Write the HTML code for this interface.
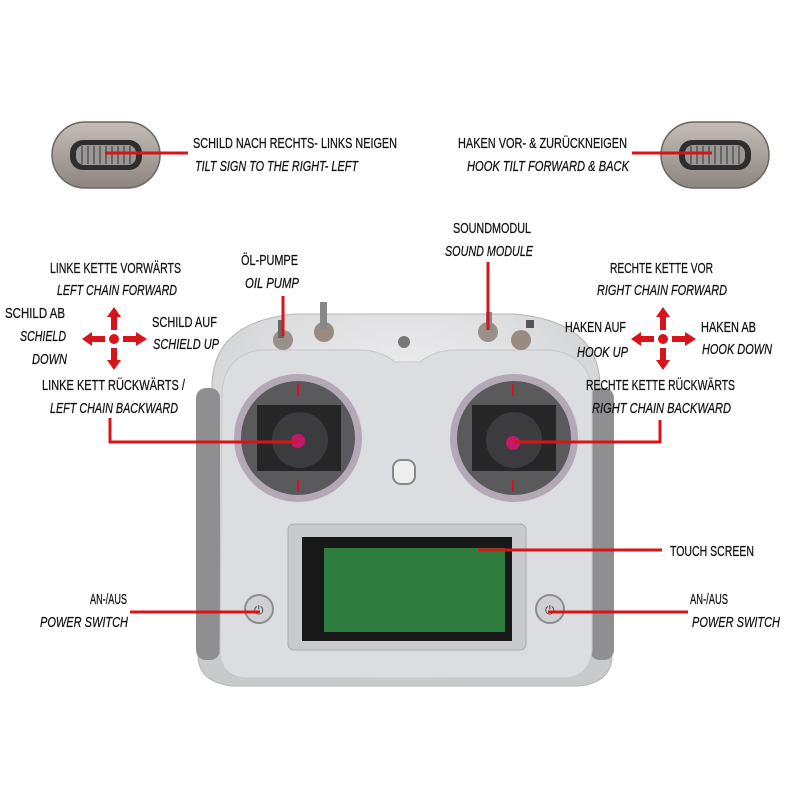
<!DOCTYPE html>
<html><head><meta charset="utf-8"><style>
html,body{margin:0;padding:0;background:#fff}
svg{display:block}
text{font-family:"Liberation Sans Narrow","Liberation Sans",sans-serif;font-size:15px;fill:#111;stroke:#111;stroke-width:0.25}
.i{font-style:italic}
</style></head><body>
<svg width="800" height="800" viewBox="0 0 800 800" xmlns="http://www.w3.org/2000/svg">
<defs>
<radialGradient id="body" cx="50%" cy="30%" r="70%"><stop offset="0" stop-color="#f4f4f5"/><stop offset="1" stop-color="#c9cacc"/></radialGradient>
<linearGradient id="wheel" x1="0" y1="0" x2="0" y2="1"><stop offset="0" stop-color="#c4bdb8"/><stop offset="1" stop-color="#8c8580"/></linearGradient>
<g id="arrowcross">
<circle cx="0" cy="0" r="5" fill="#d8141b"/>
<path d="M-3,-9 L-3,-22 L-7,-22 L0,-32 L7,-22 L3,-22 L3,-9Z" fill="#d8141b"/>
<path d="M-3,9 L-3,21 L-7,21 L0,31 L7,21 L3,21 L3,9Z" fill="#d8141b"/>
<path d="M-9,-3 L-22,-3 L-22,-7 L-32,0 L-22,7 L-22,3 L-9,3Z" fill="#d8141b"/>
<path d="M9,-3 L22,-3 L22,-7 L33,0 L22,7 L22,3 L9,3Z" fill="#d8141b"/>
</g>
<g id="thumb">
<rect x="0" y="0" width="108" height="66" rx="33" fill="url(#wheel)" stroke="#6d6762" stroke-width="1.5"/>
<rect x="18" y="18" width="72" height="30" rx="13" fill="#2e2e2e"/>
<rect x="24" y="23" width="60" height="20" rx="8" fill="#9a9795"/>
<path d="M30,24 V42 M36,24 V42 M42,24 V42 M48,24 V42 M54,24 V42 M60,24 V42 M66,24 V42 M72,24 V42 M78,24 V42" stroke="#555" stroke-width="1.5"/>
</g>
</defs>

<use href="#thumb" x="52" y="122"/>
<use href="#thumb" x="661" y="122"/>
<line x1="105" y1="153" x2="188" y2="153" stroke="#d8141b" stroke-width="3"/>
<line x1="632" y1="153" x2="712" y2="153" stroke="#d8141b" stroke-width="3"/>

<!-- controller body -->
<path d="M212,390 Q210,322 295,314 L515,314 Q602,322 600,390 L612,400 L612,655 Q612,682 580,686 L232,686 Q198,682 198,655 L198,400Z" fill="url(#body)" stroke="#b5b5b8"/>
<rect x="196" y="388" width="24" height="272" rx="10" fill="#8f8f91"/>
<rect x="590" y="388" width="24" height="272" rx="10" fill="#8f8f91"/>
<path d="M222,392 Q225,355 260,350 L360,350 Q380,350 395,362 L420,362 Q435,350 455,350 L550,350 Q590,355 592,392 L592,650 Q590,676 565,678 L245,678 Q220,676 220,650Z" fill="#dcdde0" stroke="#c8c8cb"/>

<g>
<circle cx="298" cy="438" r="64" fill="#b3a8b5"/>
<circle cx="298" cy="438" r="57" fill="#5a5a5c"/>
<rect x="257" y="405" width="84" height="66" fill="#262627"/>
<circle cx="300" cy="440" r="28" fill="#3c3c3e"/>
<circle cx="298" cy="441" r="7" fill="#c21a6a"/>
<line x1="298" y1="384" x2="298" y2="396" stroke="#d8141b" stroke-width="2"/>
<line x1="298" y1="480" x2="298" y2="492" stroke="#d8141b" stroke-width="2"/>
</g>
<g>
<circle cx="514" cy="438" r="64" fill="#b3a8b5"/>
<circle cx="514" cy="438" r="57" fill="#5a5a5c"/>
<rect x="472" y="405" width="84" height="66" fill="#262627"/>
<circle cx="514" cy="440" r="28" fill="#3c3c3e"/>
<circle cx="513" cy="443" r="7" fill="#c21a6a"/>
<line x1="513" y1="384" x2="513" y2="396" stroke="#d8141b" stroke-width="2"/>
<line x1="513" y1="480" x2="513" y2="492" stroke="#d8141b" stroke-width="2"/>
</g>
<rect x="393" y="460" width="22" height="24" rx="8" fill="#eee" stroke="#888" stroke-width="2"/>

<circle cx="404" cy="342" r="6" fill="#777"/>
<circle cx="283" cy="340" r="10" fill="#9a908a"/><rect x="278" y="320" width="6" height="18" fill="#666"/>
<circle cx="324" cy="332" r="10" fill="#9a8b80"/><rect x="320" y="302" width="7" height="28" fill="#888"/>
<circle cx="488" cy="332" r="10" fill="#9a908a"/><rect x="486" y="312" width="6" height="18" fill="#888"/>
<circle cx="521" cy="340" r="10" fill="#9a8b80"/><rect x="526" y="320" width="8" height="8" fill="#555"/>

<rect x="288" y="524" width="238" height="126" rx="6" fill="#c9cacd" stroke="#aaa"/>
<rect x="302" y="537" width="210" height="104" fill="#181818"/>
<rect x="324" y="548" width="181" height="84" fill="#2e7d3e"/>

<circle cx="259" cy="609" r="14" fill="#d0d0d2" stroke="#8d8d90" stroke-width="2"/>
<circle cx="550" cy="609" r="14" fill="#d0d0d2" stroke="#8d8d90" stroke-width="2"/>
<text x="254" y="614" style="font-size:12px;fill:#444;stroke:none">⏻</text>
<text x="545" y="614" style="font-size:12px;fill:#444;stroke:none">⏻</text>

<g stroke="#d8141b" stroke-width="3" fill="none">
<line x1="283" y1="296" x2="283" y2="336"/>
<line x1="488" y1="262" x2="488" y2="330"/>
<polyline points="110,418 110,442 298,442"/>
<polyline points="660,420 660,442 514,442"/>
<line x1="478" y1="550" x2="662" y2="550"/>
<line x1="130" y1="612" x2="260" y2="612"/>
<line x1="548" y1="612" x2="688" y2="612"/>
</g>
<use href="#arrowcross" x="114" y="339"/>
<use href="#arrowcross" x="663" y="339"/>

<text x="193" y="148" textLength="204" lengthAdjust="spacingAndGlyphs">SCHILD NACH RECHTS- LINKS NEIGEN</text>
<text class="i" x="195" y="171" textLength="163" lengthAdjust="spacingAndGlyphs">TILT SIGN TO THE RIGHT- LEFT</text>
<text x="458" y="148" textLength="169" lengthAdjust="spacingAndGlyphs">HAKEN VOR- &amp; ZURÜCKNEIGEN</text>
<text class="i" x="467" y="171" textLength="162" lengthAdjust="spacingAndGlyphs">HOOK TILT FORWARD &amp; BACK</text>
<text x="453" y="233" textLength="78" lengthAdjust="spacingAndGlyphs">SOUNDMODUL</text>
<text class="i" x="445" y="256" textLength="88" lengthAdjust="spacingAndGlyphs">SOUND MODULE</text>
<text x="241" y="265" textLength="57" lengthAdjust="spacingAndGlyphs">ÖL-PUMPE</text>
<text class="i" x="245" y="288" textLength="54" lengthAdjust="spacingAndGlyphs">OIL PUMP</text>
<text x="50" y="273" textLength="131" lengthAdjust="spacingAndGlyphs">LINKE KETTE VORWÄRTS</text>
<text class="i" x="57" y="295" textLength="120" lengthAdjust="spacingAndGlyphs">LEFT CHAIN FORWARD</text>
<text x="5" y="318" textLength="60" lengthAdjust="spacingAndGlyphs">SCHILD AB</text>
<text class="i" x="20" y="341" textLength="46" lengthAdjust="spacingAndGlyphs">SCHIELD</text>
<text class="i" x="32" y="364" textLength="35" lengthAdjust="spacingAndGlyphs">DOWN</text>
<text x="152" y="327" textLength="65" lengthAdjust="spacingAndGlyphs">SCHILD AUF</text>
<text class="i" x="153" y="349" textLength="66" lengthAdjust="spacingAndGlyphs">SCHIELD UP</text>
<text x="42" y="390" textLength="143" lengthAdjust="spacingAndGlyphs">LINKE KETT RÜCKWÄRTS /</text>
<text class="i" x="50" y="413" textLength="128" lengthAdjust="spacingAndGlyphs">LEFT CHAIN BACKWARD</text>
<text x="610" y="273" textLength="103" lengthAdjust="spacingAndGlyphs">RECHTE KETTE VOR</text>
<text class="i" x="597" y="295" textLength="130" lengthAdjust="spacingAndGlyphs">RIGHT CHAIN FORWARD</text>
<text x="565" y="332" textLength="61" lengthAdjust="spacingAndGlyphs">HAKEN AUF</text>
<text class="i" x="577" y="357" textLength="51" lengthAdjust="spacingAndGlyphs">HOOK UP</text>
<text x="701" y="332" textLength="55" lengthAdjust="spacingAndGlyphs">HAKEN AB</text>
<text class="i" x="702" y="354" textLength="70" lengthAdjust="spacingAndGlyphs">HOOK DOWN</text>
<text x="586" y="390" textLength="149" lengthAdjust="spacingAndGlyphs">RECHTE KETTE RÜCKWÄRTS</text>
<text class="i" x="592" y="413" textLength="139" lengthAdjust="spacingAndGlyphs">RIGHT CHAIN BACKWARD</text>
<text x="670" y="556" textLength="84" lengthAdjust="spacingAndGlyphs">TOUCH SCREEN</text>
<text x="90" y="604" textLength="37" lengthAdjust="spacingAndGlyphs">AN-/AUS</text>
<text class="i" x="40" y="627" textLength="88" lengthAdjust="spacingAndGlyphs">POWER SWITCH</text>
<text x="690" y="604" textLength="38" lengthAdjust="spacingAndGlyphs">AN-/AUS</text>
<text class="i" x="692" y="627" textLength="88" lengthAdjust="spacingAndGlyphs">POWER SWITCH</text>
</svg>
</body></html>
